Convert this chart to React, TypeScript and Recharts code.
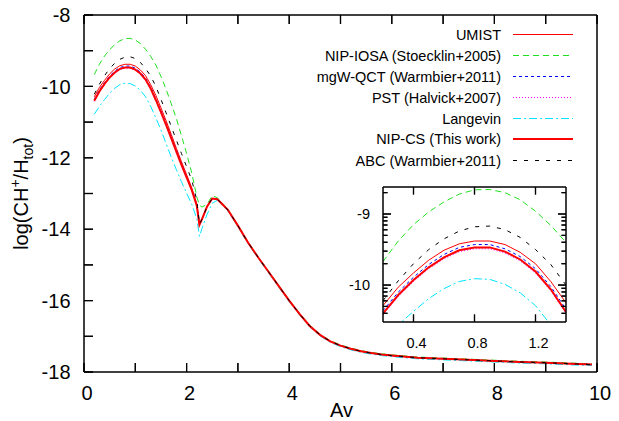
import React from 'react';
import { LineChart, Line, XAxis, YAxis, Legend, Label } from 'recharts';

// ---------- data ----------
const AV = [0.2, 0.3, 0.4, 0.5, 0.6, 0.7, 0.8, 0.9, 1.0, 1.1, 1.2, 1.3, 1.4, 1.5, 1.6, 1.7, 1.8, 1.9, 2.0,
  2.1, 2.2, 2.25, 2.3, 2.4, 2.5, 2.6, 2.8, 3.0, 3.2, 3.4, 3.6, 3.8, 4.0, 4.2, 4.4, 4.6, 4.8, 5.0, 5.2, 5.4,
  5.6, 5.8, 6.0, 6.5, 7.0, 7.5, 8.0, 8.5, 9.0, 9.5, 9.9];

const UMIST = [-10.29, -10.03, -9.83, -9.65, -9.51, -9.42, -9.38, -9.38, -9.43, -9.54, -9.7, -9.95, -10.25, -10.6,
  -10.96, -11.34, -11.73, -12.11, -12.47, -12.84, -13.3, -13.86, -13.72, -13.36, -13.14,
  -13.16, -13.45, -13.9, -14.38, -14.8, -15.2, -15.6, -16.0, -16.37, -16.71, -16.96, -17.14, -17.26, -17.35, -17.42,
  -17.47, -17.51, -17.54, -17.6, -17.63, -17.66, -17.69, -17.72, -17.74, -17.77, -17.79];

const NIP_IOSA = [-9.67, -9.38, -9.15, -8.97, -8.83, -8.72, -8.66, -8.655, -8.7, -8.8, -8.96, -9.16, -9.4, -9.72,
  -10.08, -10.48, -10.9, -11.38, -11.88, -12.42, -13.1, -13.33, -13.38, -13.3, -13.06,
  -13.12, -13.43, -13.88, -14.36, -14.78, -15.18, -15.58, -15.98, -16.35, -16.69, -16.94, -17.12, -17.24, -17.33, -17.4,
  -17.45, -17.49, -17.52, -17.58, -17.61, -17.64, -17.67, -17.7, -17.72, -17.75, -17.77];

const MGW_QCT = [-10.36, -10.1, -9.89, -9.71, -9.57, -9.47, -9.43, -9.43, -9.49, -9.6, -9.77, -10.02, -10.34, -10.68,
  -11.04, -11.41, -11.79, -12.16, -12.52, -12.88, -13.33, -13.87, -13.72, -13.36, -13.14,
  -13.16, -13.45, -13.9, -14.38, -14.8, -15.2, -15.6, -16.0, -16.37, -16.71, -16.96, -17.14, -17.26, -17.35, -17.42,
  -17.47, -17.51, -17.54, -17.6, -17.63, -17.66, -17.69, -17.72, -17.74, -17.77, -17.79];

const PST = [-10.42, -10.16, -9.95, -9.77, -9.63, -9.53, -9.49, -9.49, -9.55, -9.66, -9.83, -10.08, -10.4, -10.74,
  -11.1, -11.47, -11.85, -12.22, -12.57, -12.92, -13.37, -13.89, -13.73, -13.37, -13.15,
  -13.16, -13.45, -13.9, -14.38, -14.8, -15.2, -15.6, -16.0, -16.37, -16.71, -16.96, -17.14, -17.26, -17.35, -17.42,
  -17.47, -17.51, -17.54, -17.6, -17.63, -17.66, -17.69, -17.72, -17.74, -17.77, -17.79];

const LANGEVIN = [-10.78, -10.56, -10.37, -10.19, -10.05, -9.95, -9.91, -9.92, -9.99, -10.11, -10.29, -10.56, -10.88,
  -11.22, -11.6, -11.98, -12.33, -12.67, -12.99, -13.3, -13.71, -14.2, -13.98, -13.58, -13.27,
  -13.19, -13.48, -13.93, -14.41, -14.83, -15.23, -15.63, -16.03, -16.4, -16.74, -16.99, -17.17, -17.29, -17.38, -17.45,
  -17.5, -17.54, -17.57, -17.63, -17.66, -17.69, -17.72, -17.75, -17.77, -17.8, -17.82];

const NIP_CS = [-10.4, -10.14, -9.93, -9.75, -9.61, -9.51, -9.47, -9.47, -9.53, -9.64, -9.81, -10.06, -10.38, -10.72,
  -11.08, -11.45, -11.83, -12.2, -12.55, -12.9, -13.35, -13.88, -13.72, -13.36, -13.14,
  -13.16, -13.45, -13.9, -14.38, -14.8, -15.2, -15.6, -16.0, -16.37, -16.71, -16.96, -17.14, -17.26, -17.35, -17.42,
  -17.47, -17.51, -17.54, -17.6, -17.63, -17.66, -17.69, -17.72, -17.74, -17.77, -17.79];

const ABC = [-10.22, -9.94, -9.7, -9.5, -9.35, -9.24, -9.18, -9.17, -9.22, -9.33, -9.5, -9.71, -10.0, -10.36,
  -10.74, -11.12, -11.5, -11.88, -12.25, -12.62, -13.2, -13.86, -13.72, -13.36, -13.14,
  -13.16, -13.45, -13.9, -14.38, -14.8, -15.2, -15.6, -16.0, -16.37, -16.71, -16.96, -17.14, -17.26, -17.35, -17.42,
  -17.47, -17.51, -17.54, -17.6, -17.63, -17.66, -17.69, -17.72, -17.74, -17.77, -17.79];

const MAIN_X_TICKS = [0, 1, 2, 3, 4, 5, 6, 7, 8, 9, 10];
const MAIN_X_LABELS = [0, 2, 4, 6, 8, 10];
const MAIN_Y_TICKS = [-18, -17, -16, -15, -14, -13, -12, -11, -10, -9, -8];
const MAIN_Y_LABELS = [-18, -16, -14, -12, -10, -8];
const INSET_X_TICKS = [0.4, 0.8, 1.2];
const INSET_Y_MAJOR = [-10, -9];

const X_LABEL = 'Av';

// ---------- config ----------
const FONT = "'Liberation Sans', Arial, Helvetica, sans-serif";
const MAIN_X_DOMAIN: [number, number] = [0, 10];
const MAIN_Y_DOMAIN: [number, number] = [-18, -8];
const INSET_X_DOMAIN: [number, number] = [0.2, 1.4];
const INSET_Y_DOMAIN: [number, number] = [-10.52, -8.62];

const INSET_Y_TICKS = [-11, -10, -9]
  .flatMap((d) => [1, 2, 3, 4, 5, 6, 7, 8, 9].map((k) => d + Math.log10(k)))
  .filter((v) => v >= INSET_Y_DOMAIN[0] && v <= INSET_Y_DOMAIN[1]);

const SERIES = [
  { key: 'umist', name: 'UMIST', values: UMIST, color: '#ff0000', width: 1, dash: undefined as string | undefined },
  { key: 'iosa', name: 'NIP-IOSA (Stoecklin+2005)', values: NIP_IOSA, color: '#1fe01f', width: 1, dash: '6 4' },
  { key: 'mgw', name: 'mgW-QCT (Warmbier+2011)', values: MGW_QCT, color: '#0000ff', width: 1, dash: '3 3' },
  { key: 'pst', name: 'PST (Halvick+2007)', values: PST, color: '#ff00ff', width: 1, dash: '1 2' },
  { key: 'lang', name: 'Langevin', values: LANGEVIN, color: '#00e5ff', width: 1, dash: '8 3 2 3' },
  { key: 'nipcs', name: 'NIP-CS (This work)', values: NIP_CS, color: '#ff0000', width: 2, dash: undefined },
  { key: 'abc', name: 'ABC (Warmbier+2011)', values: ABC, color: '#000000', width: 1, dash: '4 7' },
];

const DATA = AV.map((av, i) => {
  const row: Record<string, number> = { av };
  SERIES.forEach((s) => { row[s.key] = s.values[i]; });
  return row;
});

const AXIS_LINE = { stroke: '#000', strokeWidth: 1.5 };
const TW = 1.2; // tick mark thickness

// ---------- tick renderers (tickSize 0, so x/y lie on the axis line; marks point inward) ----------
const near = (list: number[], v: number) => list.some((l) => Math.abs(l - v) < 1e-6);
const isIntMajor = (v: number) => Math.abs(v - Math.round(v)) < 1e-6;

const Mark = ({ x1, y1, x2, y2 }: { x1: number; y1: number; x2: number; y2: number }) => {
  const rx = Math.min(x1, x2) - (x1 === x2 ? TW / 2 : 0);
  const ry = Math.min(y1, y2) - (y1 === y2 ? TW / 2 : 0);
  const rw = x1 === x2 ? TW : Math.abs(x2 - x1);
  const rh = y1 === y2 ? TW : Math.abs(y2 - y1);
  return (
    <g opacity={1}>
      <rect x={rx} y={ry} width={rw} height={rh} fill="#000" fillOpacity={1} stroke="none" />
      <path d={`M${x1},${y1}L${x2},${y2}`} stroke="#000" strokeOpacity={1} strokeWidth={TW} fill="none" />
    </g>
  );
};

const makeTick = (side: 'bottom' | 'top' | 'left' | 'right', opts: {
  len: number; minorLen?: number; labels?: number[]; fontSize?: number; labelGap?: number; isMajor?: (v: number) => boolean;
}) => (props: any) => {
  const x = Number(props.x);
  const y = Number(props.y);
  const v = Number(props.payload.value);
  const major = opts.isMajor ? opts.isMajor(v) : true;
  const len = major ? opts.len : (opts.minorLen ?? opts.len);
  const showLabel = opts.labels ? near(opts.labels, v) : false;
  const fs = opts.fontSize ?? 20;
  const lbl = String(+v.toFixed(2));
  if (side === 'bottom') {
    return (
      <g>
        <Mark x1={x} y1={y} x2={x} y2={y - len} />
        {showLabel ? <text x={x + 3} y={y + (opts.labelGap ?? 28)} textAnchor="middle" fontSize={fs} fontFamily={FONT} fill="#000">{lbl}</text> : null}
      </g>
    );
  }
  if (side === 'top') {
    return <g><Mark x1={x} y1={y} x2={x} y2={y + len} /></g>;
  }
  if (side === 'left') {
    return (
      <g>
        <Mark x1={x} y1={y} x2={x + len} y2={y} />
        {showLabel ? <text x={x - (opts.labelGap ?? 13.5)} y={y} dy="0.36em" textAnchor="end" fontSize={fs} fontFamily={FONT} fill="#000">{lbl}</text> : null}
      </g>
    );
  }
  return <g><Mark x1={x} y1={y} x2={x - len} y2={y} /></g>;
};

const mainBottomTick = makeTick('bottom', { len: 9, labels: MAIN_X_LABELS, fontSize: 20, labelGap: 28 });
const mainTopTick = makeTick('top', { len: 9 });
const mainLeftTick = makeTick('left', { len: 9, labels: MAIN_Y_LABELS, fontSize: 20, labelGap: 13.5 });
const mainRightTick = makeTick('right', { len: 9 });

const insetBottomTick = makeTick('bottom', { len: 7.5, labels: INSET_X_TICKS, fontSize: 14.5, labelGap: 26 });
const insetTopTick = makeTick('top', { len: 7.5 });
const insetLeftTick = makeTick('left', { len: 8, minorLen: 4.5, labels: INSET_Y_MAJOR, fontSize: 14.5, labelGap: 13, isMajor: isIntMajor });
const insetRightTick = makeTick('right', { len: 8, minorLen: 4.5, isMajor: isIntMajor });

// ---------- labels ----------
const XLabelContent = (props: any) => {
  const vb = props.viewBox || {};
  const cx = (vb.x ?? 0) + (vb.width ?? 0) / 2;
  return <text x={cx + 1} y={(vb.y ?? 0) + 45} textAnchor="middle" fontSize={20} fontFamily={FONT} fill="#000">{X_LABEL}</text>;
};

const YLabelContent = (props: any) => {
  const vb = props.viewBox || {};
  const cy = (vb.y ?? 0) + (vb.height ?? 0) / 2;
  const bx = 28;
  return (
    <text x={bx} y={cy} transform={`rotate(-90, ${bx}, ${cy})`} textAnchor="middle" fontSize={20} fontFamily={FONT} fill="#000">
      log(CH<tspan dy={-8} fontSize={14}>+</tspan><tspan dy={8}>/H</tspan><tspan dy={5} fontSize={14}>tot</tspan><tspan dy={-5}>)</tspan>
    </text>
  );
};

// ---------- legend ----------
const renderLegend = () => (
  <svg width={619} height={175} style={{ display: 'block' }}>
    {SERIES.map((s, i) => {
      const y = Math.round(34 + i * 20.95) + (s.width === 1 ? 0.5 : 0);
      return (
        <g key={s.key}>
          <text x={501} y={y} dy="0.36em" textAnchor="end" fontSize={14.5} fontFamily={FONT} fill="#000">{s.name}</text>
          <line x1={513} x2={573} y1={y} y2={y} stroke={s.color} strokeWidth={s.width} strokeDasharray={s.dash} />
        </g>
      );
    })}
  </svg>
);

const renderLines = () =>
  SERIES.map((s) => (
    <Line
      key={s.key}
      type="linear"
      dataKey={s.key}
      name={s.name}
      stroke={s.color}
      strokeWidth={s.width}
      strokeDasharray={s.dash}
      dot={false}
      activeDot={false}
      isAnimationActive={false}
      legendType="line"
    />
  ));

// inset container geometry (plot box 383..566 x 187..322)
const INSET_BOX = { left: 340, top: 178, width: 240, height: 178 };

export default function App() {
  return (
    <div style={{ position: 'absolute', left: 0, top: 0, width: 619, height: 421, background: '#fff' }}>
      <div style={{ position: 'relative', width: 619, height: 421 }}>
        <LineChart width={619} height={421} data={DATA} margin={{ top: 5, right: 12, bottom: 19, left: 24 }}>
          <XAxis dataKey="av" type="number" domain={MAIN_X_DOMAIN} ticks={MAIN_X_TICKS} interval={0}
            tickSize={0} tickMargin={0} tick={mainBottomTick} axisLine={AXIS_LINE} tickLine={false} height={30}>
            <Label content={XLabelContent} />
          </XAxis>
          <XAxis xAxisId="top" orientation="top" dataKey="av" type="number" domain={MAIN_X_DOMAIN}
            ticks={MAIN_X_TICKS} interval={0} tickSize={0} tickMargin={0} tick={mainTopTick} axisLine={AXIS_LINE} tickLine={false} height={10} />
          <YAxis type="number" domain={MAIN_Y_DOMAIN} ticks={MAIN_Y_TICKS} interval={0}
            tickSize={0} tickMargin={0} tick={mainLeftTick} axisLine={AXIS_LINE} tickLine={false} width={60}>
            <Label content={YLabelContent} />
          </YAxis>
          <YAxis yAxisId="right" orientation="right" type="number" domain={MAIN_Y_DOMAIN}
            ticks={MAIN_Y_TICKS} interval={0} tickSize={0} tickMargin={0} tick={mainRightTick} axisLine={AXIS_LINE} tickLine={false} width={10} />
          <Legend layout="vertical" align="center" verticalAlign="middle" content={renderLegend}
            wrapperStyle={{ position: 'absolute', left: 0, top: 0, width: 619, height: 175 }} />
          {renderLines()}
        </LineChart>
        <div style={{ position: 'absolute', left: INSET_BOX.left, top: INSET_BOX.top, width: INSET_BOX.width, height: INSET_BOX.height }}>
          <div style={{ position: 'absolute', left: 43, top: 9, width: 183, height: 135, background: '#fff' }} />
          <div style={{ position: 'absolute', left: 0, top: 0 }}>
            <LineChart width={INSET_BOX.width} height={INSET_BOX.height} data={DATA} margin={{ top: 1, right: 6, bottom: 4, left: 13 }}>
              <XAxis dataKey="av" type="number" domain={INSET_X_DOMAIN} allowDataOverflow ticks={INSET_X_TICKS} interval={0}
                tickSize={0} tickMargin={0} tick={insetBottomTick} axisLine={AXIS_LINE} tickLine={false} height={30} />
              <XAxis xAxisId="top" orientation="top" dataKey="av" type="number" domain={INSET_X_DOMAIN} allowDataOverflow
                ticks={INSET_X_TICKS} interval={0} tickSize={0} tickMargin={0} tick={insetTopTick} axisLine={AXIS_LINE} tickLine={false} height={8} />
              <YAxis type="number" domain={INSET_Y_DOMAIN} allowDataOverflow ticks={INSET_Y_TICKS} interval={0}
                tickSize={0} tickMargin={0} tick={insetLeftTick} axisLine={AXIS_LINE} tickLine={false} width={30} />
              <YAxis yAxisId="right" orientation="right" type="number" domain={INSET_Y_DOMAIN} allowDataOverflow
                ticks={INSET_Y_TICKS} interval={0} tickSize={0} tickMargin={0} tick={insetRightTick} axisLine={AXIS_LINE} tickLine={false} width={8} />
              {renderLines()}
            </LineChart>
          </div>
        </div>
      </div>
    </div>
  );
}
